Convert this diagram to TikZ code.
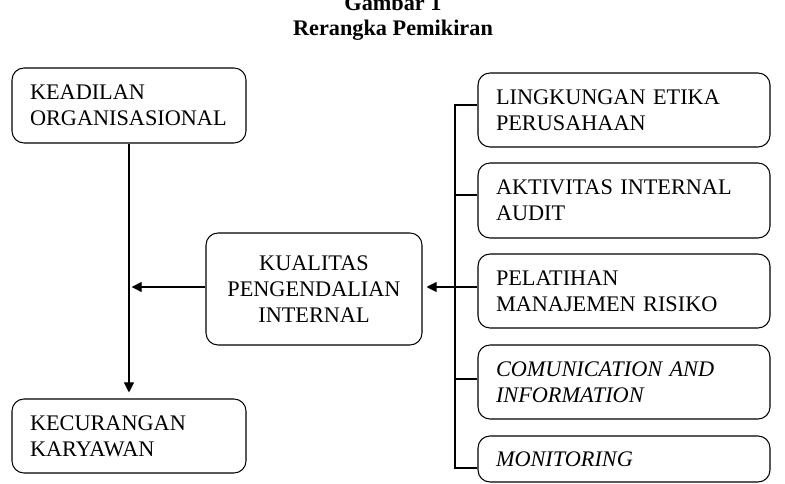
\documentclass[tikz,border=0pt]{standalone}
\usepackage{fontspec}
\setmainfont{Liberation Serif}
\usetikzlibrary{arrows.meta}
\begin{document}
\begin{tikzpicture}[x=0.75pt,y=-0.75pt,
  every node/.style={font=\fontsize{16.7}{19.5}\selectfont},
  box/.style={draw,line width=0.8pt,rounded corners=9pt,inner xsep=13.5pt,inner ysep=0pt,align=left},
  lbox/.style={box,text width=#1*0.75pt-27pt},
  link/.style={line width=0.8pt},
  arr/.style={line width=0.8pt,-{Triangle[length=7.5pt,width=7.5pt]}}
]
\useasboundingbox (0,0) rectangle (785,484);
\node[anchor=base,font=\fontsize{16.7}{19.5}\selectfont\bfseries] (t1) at (393,11) {Gambar 1};
\node[anchor=base,font=\fontsize{16.7}{19.5}\selectfont\bfseries] (t2) at (393,36) {Rerangka Pemikiran};

\node[lbox=234,minimum height=75*0.75pt] (kead) at (129,105.5) {KEADILAN\\ORGANISASIONAL};
\node[lbox=234,minimum height=74*0.75pt] (kecu) at (129,436) {KECURANGAN\\KARYAWAN};
\node[box,align=center,minimum width=216*0.75pt,minimum height=112*0.75pt,inner xsep=0pt] (kual) at (314,289) {KUALITAS\\PENGENDALIAN\\INTERNAL};

\node[lbox=292,minimum height=74*0.75pt] (ling) at (624,110) {LINGKUNGAN ETIKA\\PERUSAHAAN};
\node[lbox=292,minimum height=75*0.75pt] (akti) at (624,200.5) {AKTIVITAS INTERNAL\\AUDIT};
\node[lbox=292,minimum height=74*0.75pt] (pela) at (624,291) {PELATIHAN\\MANAJEMEN RISIKO};
\node[lbox=292,minimum height=74*0.75pt] (comm) at (624,382) {\itshape COMUNICATION AND\\\itshape INFORMATION};
\node[lbox=292,minimum height=46*0.75pt] (moni) at (624,459) {\itshape MONITORING};

% left chain
\draw[arr,shorten >=4.5pt] (kead.south) -- (kecu.north);
\coordinate (lj) at (kead.south |- 0,287);
\draw[arr,shorten >=2pt] (kual.west |- 0,287) -- (lj);

% right bus
\coordinate (b1) at (455,105);
\coordinate (b2) at (455,195);
\coordinate (b4) at (455,379);
\coordinate (b5) at (455,468);
\draw[link] (b1 -| ling.west) -- (b1) -- (b5) -- (b5 -| moni.west);
\draw[link] (b2) -- (b2 -| akti.west);
\draw[link] (b4) -- (b4 -| comm.west);
\draw[arr,shorten >=3pt] (pela.west |- 0,287) -- (kual.east |- 0,287);
\end{tikzpicture}
\end{document}
